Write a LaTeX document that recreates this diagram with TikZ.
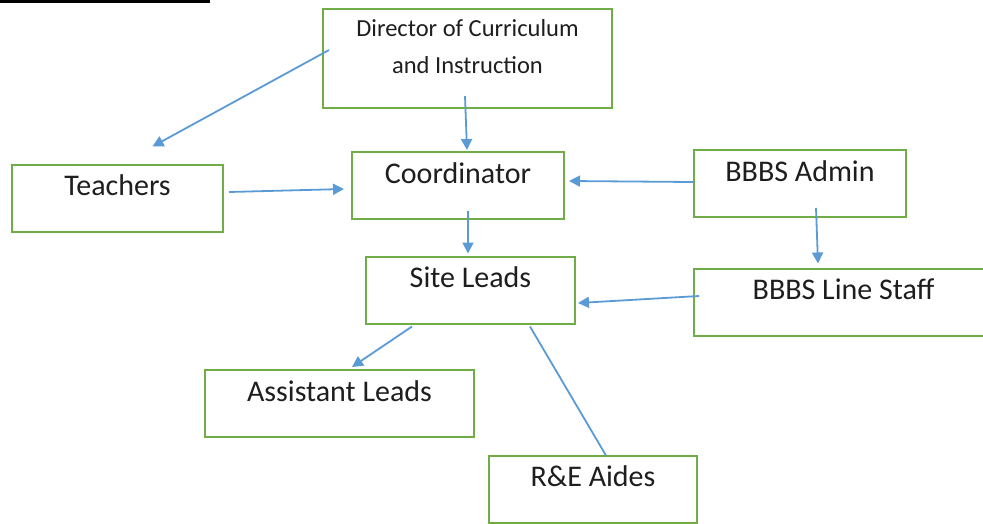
\documentclass[tikz,border=0pt]{standalone}
\usepackage{fontspec}
\setmainfont{Carlito}
\usetikzlibrary{arrows.meta}
\definecolor{boxgreen}{HTML}{70AD47}
\definecolor{linkblue}{HTML}{5B9BD5}
\definecolor{inktext}{HTML}{1E1E1E}
\newcommand\boxfont{\fontsize{30}{36}\selectfont}
\newcommand\smallboxfont{\fontsize{24.5}{37}\selectfont}
\begin{document}
\begin{tikzpicture}[x=1pt,y=-1pt,
    orgbox/.style={draw=boxgreen,line width=2pt,fill=white,text=inktext,
      font=\boxfont,inner xsep=0pt,inner ysep=10pt,
      text height=21pt,text depth=26pt}]
  \useasboundingbox (0,0) rectangle (983,523);
  % underline of the cut-off heading
  \draw[line width=3pt] (0,1.5) -- (210,1.5);
  \draw
    (467.5,58.5) node[orgbox,font=\smallboxfont,align=center,minimum width=289pt,
      inner ysep=14pt,text height=50pt,text depth=21pt] (dir)
      {Director of Curriculum\\and Instruction}
    (117.5,198) node[orgbox,minimum width=211pt] (teach){Teachers}
    (458,185.5) node[orgbox,minimum width=212pt] (coord){Coordinator}
    (800,183.5) node[orgbox,minimum width=212pt] (admin){BBBS Admin}
    (470.5,290) node[orgbox,minimum width=209pt] (site){Site Leads}
    (843.5,302) node[orgbox,minimum width=299pt] (line){BBBS Line Staff}
    (339.5,403.5) node[orgbox,minimum width=269pt] (asst){Assistant Leads}
    (593,489) node[orgbox,minimum width=208pt] (aides){R\&E Aides};
  \begin{scope}[draw=linkblue,line width=1.8pt,-{Triangle[length=11pt,width=11pt]}]
    \draw ([shift={(7,-8.5)}]dir.west) to ([shift={(35,-17)}]teach.north);
    \draw ([shift={(-2.5,-13)}]dir.south) to ([shift={(9,-1)}]coord.north);
    \draw ([shift={(5,-6)}]teach.east) to ([shift={(-7,3.5)}]coord.west);
    \draw ([shift={(0,-1.5)}]admin.west) to ([shift={(4,-4.5)}]coord.east);
    \draw ([shift={(10,-9)}]coord.south) to ([shift={(-2.5,-2)}]site.north);
    \draw ([shift={(16,-10)}]admin.south) to ([shift={(-25.5,-4)}]line.north);
    \draw ([shift={(6,-6)}]line.west) to ([shift={(2,13)}]site.east);
    \draw ([shift={(-58.5,2)}]site.south) to ([shift={(12.5,-2)}]asst.north);
    \draw[-] ([shift={(59.5,2)}]site.south) to ([shift={(13,1)}]aides.north);
  \end{scope}
\end{tikzpicture}
\end{document}
